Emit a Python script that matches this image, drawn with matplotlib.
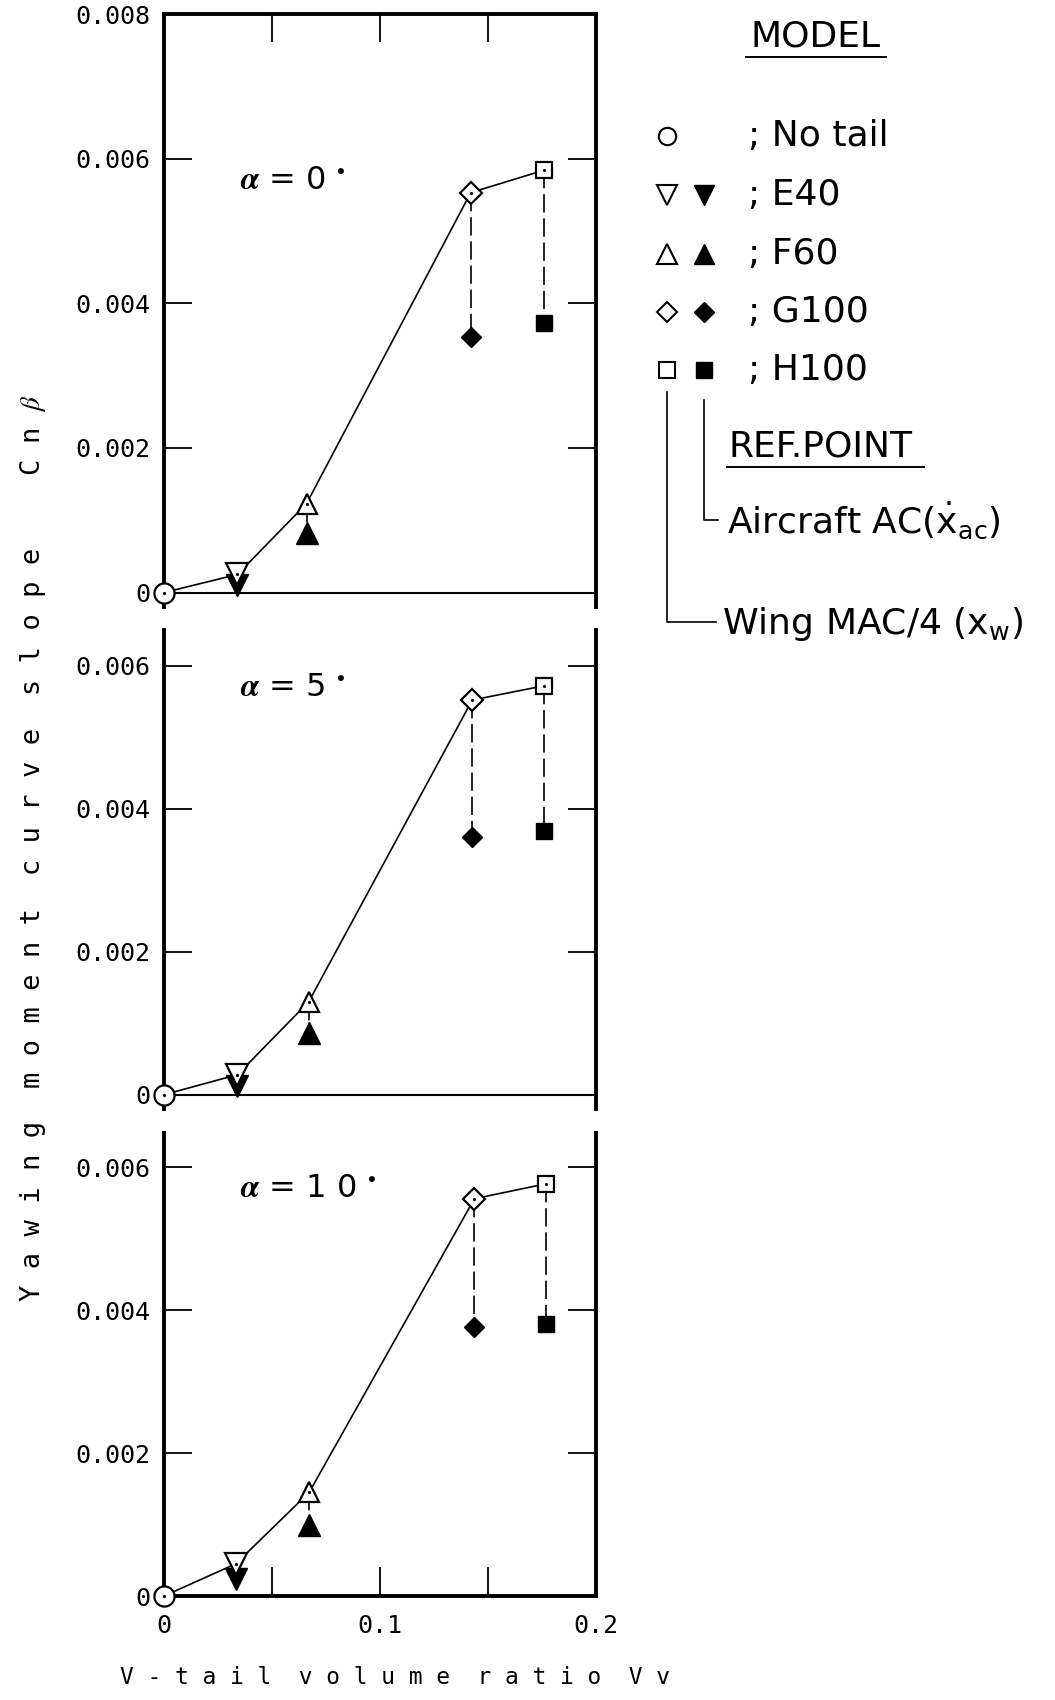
import matplotlib.pyplot as plt
import numpy as np

# V-tail volume ratio of each model (No tail, E40, F60, G100, H100), per angle of attack
alphas = ['0', '5', '1 0']
vv = [[0.0, 0.034, 0.066, 0.142, 0.176],
      [0.0, 0.034, 0.067, 0.1427, 0.176],
      [0.0, 0.0332, 0.0672, 0.1437, 0.177]]
# Cn_beta, ref. point wing MAC/4 (open symbols)
cn_wing = [[0.0, 0.00025, 0.00123, 0.00553, 0.00584],
           [0.0, 0.00028, 0.00130, 0.00552, 0.00572],
           [0.0, 0.00045, 0.00145, 0.00556, 0.00577]]
# Cn_beta, ref. point aircraft AC (filled symbols, E40..H100)
cn_ac = [[0.00010, 0.00082, 0.00353, 0.00373],
         [0.00012, 0.00086, 0.00361, 0.00369],
         [0.00024, 0.00100, 0.00376, 0.00380]]

models = ['No tail', 'E40', 'F60', 'G100', 'H100']
marks = ['o', 'v', '^', 'D', 's']
ms_open = {'o': 14.5, 'v': 15.5, '^': 14.5, 'D': 11.5, 's': 12}
ms_fill = {'v': 16, '^': 16, 'D': 10, 's': 11}

W, H = 1055, 1700
fig = plt.figure(figsize=(W / 100, H / 100), dpi=100)
mono = 'DejaVu Sans Mono'


def px_axes(left, top, right, bottom):
    return fig.add_axes([left / W, 1 - bottom / H, (right - left) / W, (bottom - top) / H])


# panel boxes in pixels and y limits
boxes = [(164, 14, 596, 607), (164, 630, 596, 1109), (164, 1133, 596, 1596)]
ylims = [(-0.0002, 0.008), (-0.0002, 0.0065), (0.0, 0.00648)]
yticks = [[0, 0.002, 0.004, 0.006, 0.008], [0, 0.002, 0.004, 0.006], [0, 0.002, 0.004, 0.006]]

for k in range(3):
    ax = px_axes(*boxes[k])
    ax.set_xlim(0, 0.2)
    ax.set_ylim(*ylims[k])
    x = vv[k]
    yw = cn_wing[k]
    ya = cn_ac[k]

    # connecting line through the wing MAC/4 points
    ax.plot(x, yw, '-', color='k', lw=1.2, zorder=2, clip_on=False)
    # dashed drop lines to aircraft AC points
    for i in range(1, 5):
        ax.plot([x[i], x[i]], [yw[i], ya[i - 1]], color='k', lw=1.2,
                dashes=(11, 3.5), zorder=1)
    for i in range(5):
        m = marks[i]
        ax.plot(x[i], yw[i], marker=m, ms=ms_open[m], mfc='white', mec='k',
                mew=1.6, ls='none', zorder=4, clip_on=False)
        ax.plot(x[i], yw[i], marker='.', ms=2.5, color='k', ls='none', zorder=5, clip_on=False)
    for i in range(1, 5):
        m = marks[i]
        ax.plot(x[i], ya[i - 1], marker=m, ms=ms_fill[m], color='k', ls='none',
                zorder=3, clip_on=False)

    ax.text(0.035, 0.0057, r'$\boldsymbol{\alpha}$ = ' + alphas[k] + r' $^{\bullet}$',
            fontsize=23, family='DejaVu Sans', math_fontfamily='stix',
            va='center', ha='left')

    # frame
    for s in ['left', 'right']:
        ax.spines[s].set_linewidth(2.8)
    ax.spines['top'].set_linewidth(2.8)
    ax.spines['top'].set_visible(k == 0)
    if k < 2:
        ax.spines['bottom'].set_visible(False)
        ax.axhline(0, color='k', lw=1.5, zorder=1)
    else:
        ax.spines['bottom'].set_linewidth(2.8)

    ax.set_yticks(yticks[k])
    ax.set_yticklabels(['0' if t == 0 else '%.3f' % t for t in yticks[k]])
    ax.tick_params(axis='y', direction='in', length=20, width=1.3, left=True, right=True,
                   labelsize=18, pad=10)
    for lab in ax.get_yticklabels():
        lab.set_family(mono)

    if k == 0:
        ax.set_xticks([0.05, 0.1, 0.15])
        ax.tick_params(axis='x', direction='in', length=20, width=1.3, top=True,
                       bottom=False, labelbottom=False)
    elif k == 1:
        ax.set_xticks([])
    else:
        ax.set_xticks([0, 0.05, 0.1, 0.15, 0.2])
        ax.set_xticklabels(['0', '', '0.1', '', '0.2'])
        ax.tick_params(axis='x', direction='in', length=21, width=1.3, labelsize=18, pad=13)
        for lab in ax.get_xticklabels():
            lab.set_family(mono)

# axis titles
fig.text(33 / W, 1 - 924 / H, 'Y a w i n g  m o m e n t  c u r v e  s l o p e',
         rotation=90, family=mono, fontsize=19.5, ha='center', va='center')
fig.text(33 / W, 1 - 435 / H, r'C n $\beta$', rotation=90, family=mono, fontsize=19.5,
         math_fontfamily='stix', ha='center', va='center')
fig.text(395 / W, 1 - 1678 / H, 'V - t a i l  v o l u m e  r a t i o  V v',
         family=mono, fontsize=16.5, ha='center', va='center')

# legend drawn on an overlay in pixel coordinates
lg = fig.add_axes([0, 0, 1, 1])
lg.set_xlim(0, W)
lg.set_ylim(H, 0)
lg.axis('off')
lfont = dict(family='DejaVu Sans', fontsize=26, va='center')

lg.text(816, 36, 'MODEL', ha='center', **lfont)
lg.plot([746, 886], [57, 57], color='k', lw=1.4)

row_y = [136, 195, 254, 312, 370]
leg_open = {'o': 12.5, 'v': 14, '^': 14, 'D': 10, 's': 11}
leg_fill = {'v': 14, '^': 14, 'D': 10, 's': 11}
for i in range(5):
    m = marks[i]
    lg.plot(667, row_y[i], marker=m, ms=leg_open[m], mfc='white', mec='k', mew=1.5, ls='none')
    if i > 0:
        lg.plot(704, row_y[i], marker=m, ms=leg_fill[m], color='k', ls='none')
    lg.text(748, row_y[i], '; ' + models[i], ha='left', **lfont)

lg.text(729, 446, 'REF.POINT', ha='left', **lfont)
lg.plot([727, 924], [467, 467], color='k', lw=1.4)
lg.text(727, 521, r'Aircraft AC($\dot{\mathrm{x}}_{\mathrm{ac}}$)', ha='left',
        math_fontfamily='dejavusans', **lfont)
lg.text(722, 624, r'Wing MAC/4 ($\mathrm{x}_{\mathrm{w}}$)', ha='left',
        math_fontfamily='dejavusans', **lfont)

# reference-point brackets
lg.plot([667, 667, 716], [392, 622, 622], color='k', lw=1.2)
lg.plot([704, 704, 718], [400, 520, 520], color='k', lw=1.2)

fig.savefig('out.png', dpi=100)
